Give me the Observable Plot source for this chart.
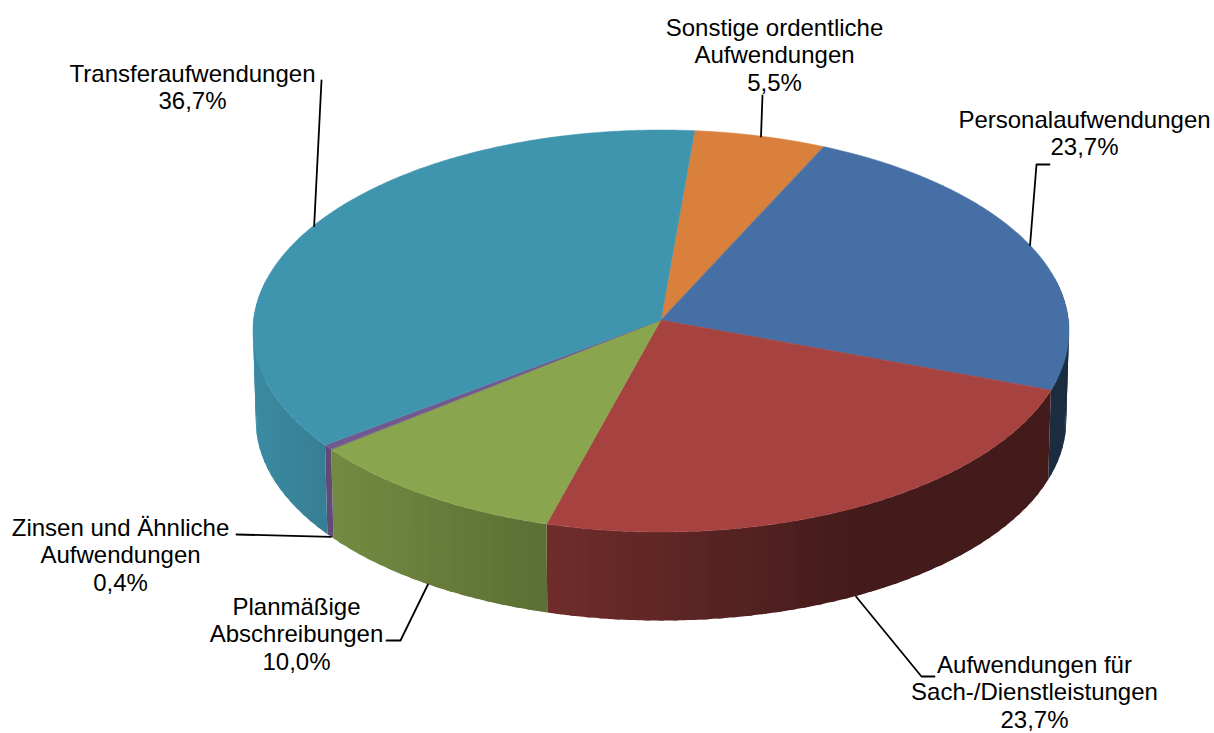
<!DOCTYPE html>
<html>
<head>
<meta charset="utf-8">
<style>html,body{margin:0;padding:0;background:#fff;overflow:hidden}svg{display:block}</style>
<script src="https://cdn.jsdelivr.net/npm/d3@7"></script>
<script src="https://cdn.jsdelivr.net/npm/@observablehq/plot@0.6"></script>
</head>
<body>
<div id="chart"></div>
<script>
// Data, in drawing order clockwise
const categories = ["Sonstige ordentliche\nAufwendungen", "Personalaufwendungen", "Aufwendungen für\nSach-/Dienstleistungen", "Planmäßige\nAbschreibungen", "Zinsen und Ähnliche\nAufwendungen", "Transferaufwendungen"];
const shares = [5.5, 23.7, 23.7, 10.0, 0.4, 36.7];
const colors = ["#D8803C", "#4670A5", "#A64341", "#89A54E", "#71588F", "#4095AE"];

// Label layout
const labelX = [774, 1084, 1034, 296, 120, 192];
const labelY = [54, 132, 691, 633, 554, 86];
const leaderBends = [[[762, 95]], [[1036, 164], [1049, 164]], [[921, 676], [934, 676]], [[400, 640], [386, 640]], [[236, 534]], [[321, 80]]];
const leaderOnBase = [false, false, true, true, true, false];

// Pie tilt and perspective
const W = 1214, H = 733;
const cx = 661, cy = 320, a = 407.4, b = 200.4, k = 0.0547, depth = 90, baseScale = 0.993, startDeg = 5.0;
const rad = d => d * Math.PI / 180;
const top3d = deg => {
  const u = Math.sin(rad(deg)), v = -Math.cos(rad(deg)), w = 1 - k * v;
  return {X: a * u / w, Y: b * v / w};
};
const topPt = deg => { const p = top3d(deg); return [cx + p.X, cy + p.Y]; };
const basePt = deg => { const p = top3d(deg); return [cx + p.X * baseScale, cy + p.Y * baseScale + depth]; };

const shade = d3.scaleLinear().domain([-408, -330, -114, 190, 408]).range([0.93, 0.84, 0.67, 0.41, 0.40]);

let acc = startDeg;
const slices = categories.map((name, i) => {
  const start = acc, end = acc + shares[i] * 3.6;
  acc = end;
  return {name, i, start, end, mid: (start + end) / 2, color: colors[i]};
});

const topRows = slices.flatMap(s => {
  const n = Math.max(2, Math.ceil((s.end - s.start) / 0.5));
  return d3.range(n + 1).map(j => {
    const [x2, y2] = topPt(s.start + (s.end - s.start) * j / n);
    return {name: s.name, color: s.color, x1: cx, y1: cy, x2, y2};
  });
});

const sideFrom = 78, sideTo = 282, step = 2, overlap = 0.8;
const sideRows = slices.flatMap(s => {
  const lo = Math.max(s.start, sideFrom), hi = Math.min(s.end, sideTo);
  if (hi <= lo) return [];
  const n = Math.max(1, Math.ceil((hi - lo) / step));
  return d3.range(n).flatMap(j => {
    const d0 = lo + (hi - lo) * j / n, d1 = lo + (hi - lo) * (j + 1) / n;
    const f = shade(top3d((d0 + d1) / 2).X);
    const c = d3.rgb(s.color);
    const color = d3.rgb(c.r * f, c.g * f, c.b * f).formatHex();
    const id = s.i + "-" + j;
    const dEnd = Math.min(d1 + overlap, hi);
    return d3.range(5).map(q => {
      const d = d0 + (dEnd - d0) * q / 4;
      const [x1, y1] = topPt(d), [x2, y2] = basePt(d);
      return {id, color, x1, y1, x2, y2};
    });
  });
});

const leaderRows = slices.flatMap(s => {
  const start = leaderOnBase[s.i] ? basePt(s.mid) : topPt(s.mid);
  return [start, ...leaderBends[s.i]].map(([x, y]) => ({id: s.i, x, y}));
});

const labels = slices.map(s => ({
  x: labelX[s.i], y: labelY[s.i],
  text: s.name + "\n" + d3.format(".1f")(shares[s.i]).replace(".", ",") + "%"
}));

const plot = Plot.plot({
  width: W, height: H,
  margin: 0,
  x: {domain: [0, W], range: [0, W], axis: null},
  y: {domain: [0, H], range: [0, H], axis: null},
  color: {type: "identity"},
  style: {background: "#fff"},
  marks: [
    Plot.area(sideRows, {x1: "x1", y1: "y1", x2: "x2", y2: "y2", z: "id", fill: "color"}),
    Plot.area(topRows, {x1: "x1", y1: "y1", x2: "x2", y2: "y2", z: "name", fill: "color", stroke: "color", strokeWidth: 0.5}),
    Plot.line(leaderRows, {x: "x", y: "y", z: "id", stroke: "#000", strokeWidth: 1.8, curve: "linear"}),
    Plot.text(labels, {x: "x", y: "y", text: "text", fontSize: 24, fontFamily: "'Liberation Sans', Arial, sans-serif", fill: "#000", textAnchor: "middle", lineHeight: 1.15})
  ]
});
document.getElementById("chart").appendChild(plot);
</script>
</body>
</html>
